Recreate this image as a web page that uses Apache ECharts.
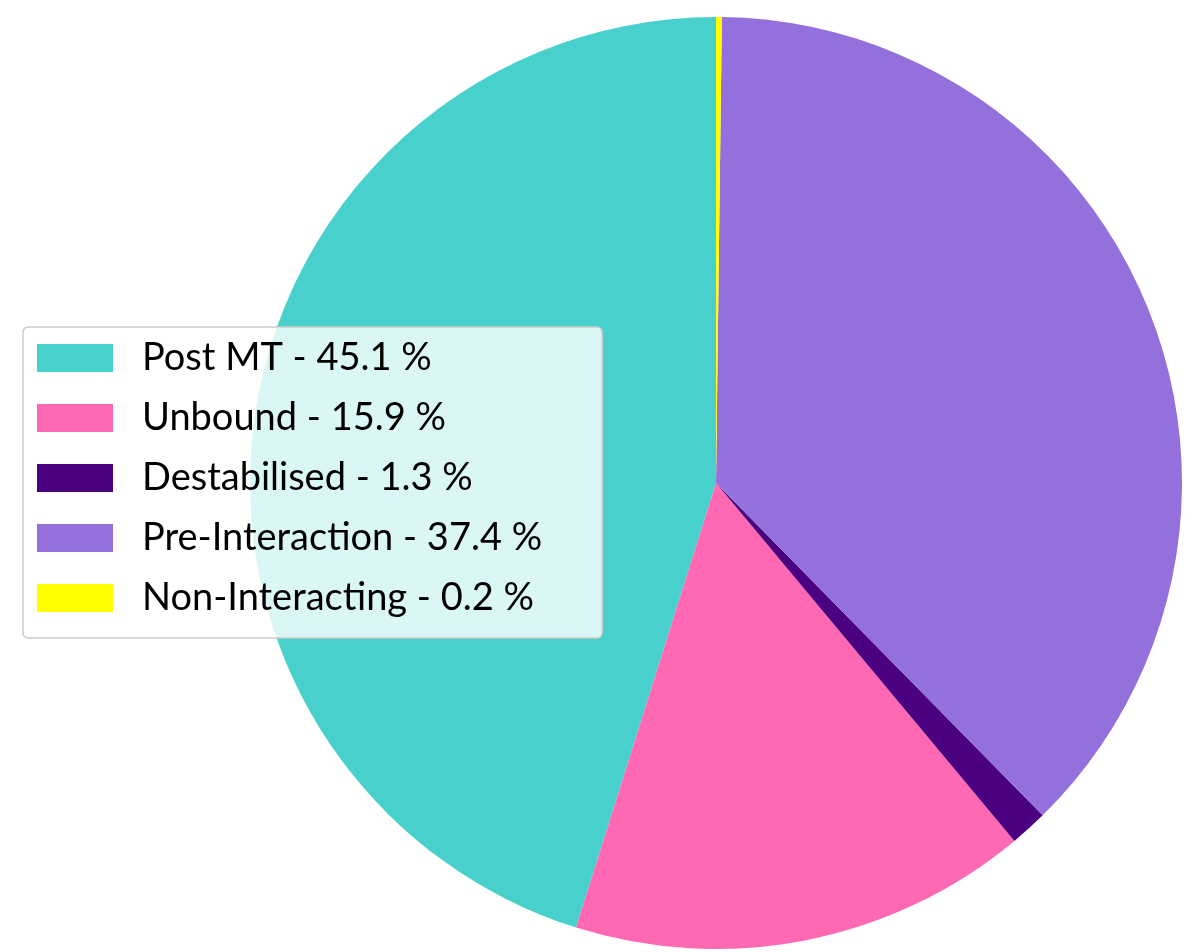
<!DOCTYPE html>
<html>
<head>
<meta charset="utf-8">
<script src="https://cdn.jsdelivr.net/npm/echarts@6/dist/echarts.min.js"></script>
<style>html,body{margin:0;padding:0;background:#fff}#c{width:1200px;height:952px}</style>
</head>
<body>
<div id="c"></div>
<script>
const categories = ["Post MT", "Unbound", "Destabilised", "Pre-Interaction", "Non-Interacting"];
const values = [45.1, 15.9, 1.3, 37.4, 0.2];
const colors = ["#48D1CC", "#FF69B4", "#4B0082", "#9370DB", "#FFFF00"];

const chart = echarts.init(document.getElementById('c'));
const data = categories.map((n, i) => ({ name: n, value: values[i], itemStyle: { color: colors[i] } }));
const valueByName = {};
categories.forEach((n, i) => valueByName[n] = values[i]);

chart.setOption({
  animation: false,
  backgroundColor: '#ffffff',
  legend: {
    orient: 'vertical',
    left: 23,
    top: 327,
    itemWidth: 76,
    itemHeight: 28,
    itemGap: 22,
    padding: [12, 60, 21, 14],
    backgroundColor: 'rgba(255,255,255,0.8)',
    borderColor: '#cccccc',
    borderWidth: 1.5,
    borderRadius: 5,
    icon: 'rect',
    selectedMode: false,
    data: categories,
    formatter: n => n + ' - ' + valueByName[n].toFixed(1) + ' %',
    textStyle: { fontFamily: 'Lato', fontSize: 38, lineHeight: 38, color: '#000', padding: [0, 0, 0, 24] }
  },
  series: [{
    type: 'pie',
    center: [716, 483],
    radius: 466,
    startAngle: 90,
    clockwise: false,
    label: { show: false },
    labelLine: { show: false },
    emphasis: { disabled: true },
    itemStyle: { borderWidth: 0 },
    data: data
  }]
});
</script>
</body>
</html>
